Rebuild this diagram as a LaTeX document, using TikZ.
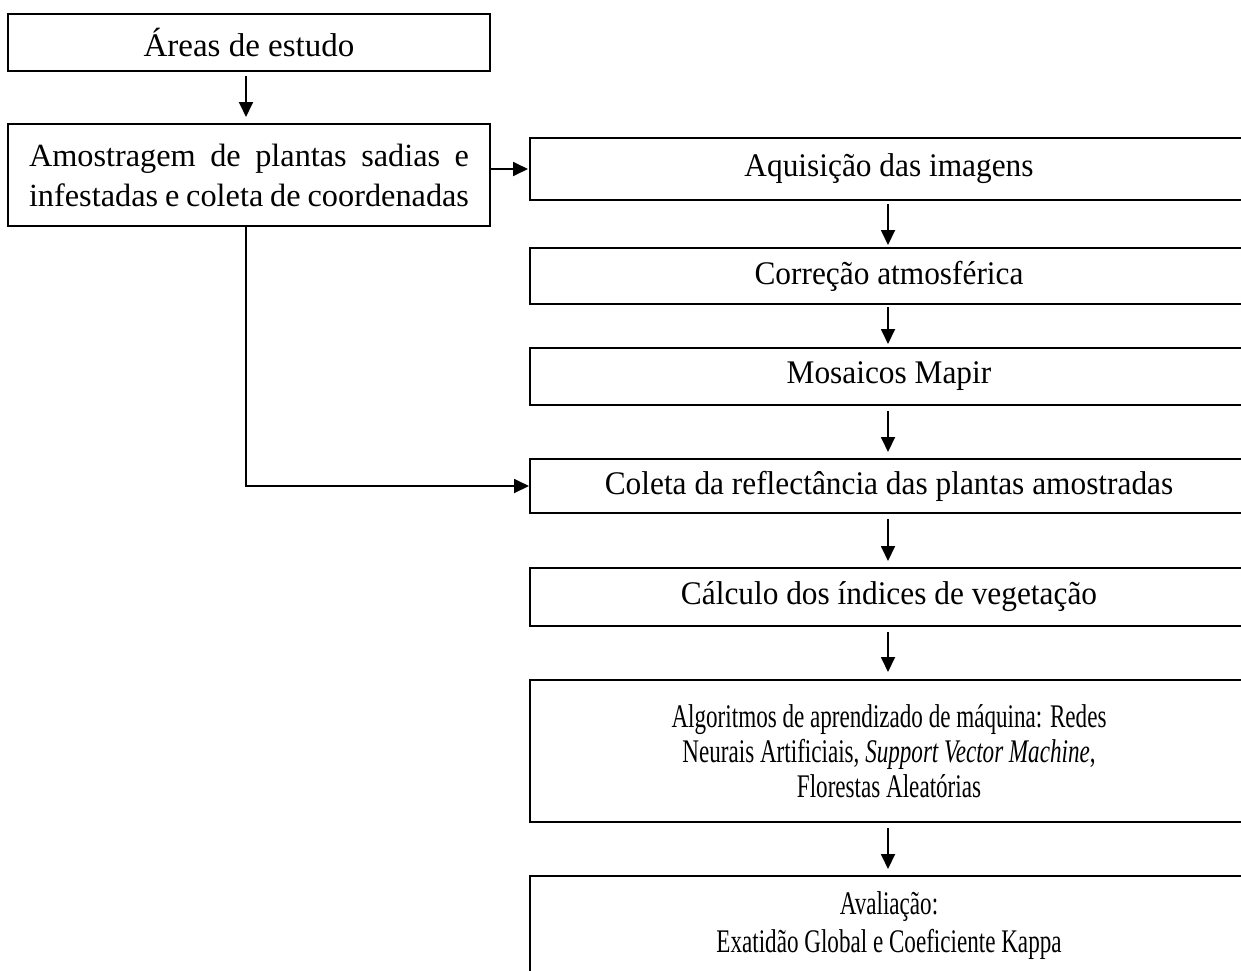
\documentclass[tikz,border=0pt]{standalone}
\usepackage{fontspec}
\setmainfont{Liberation Serif}
\newfontfamily\narrowfont{Liberation Serif}[FakeStretch=0.70]
\newfontfamily\midfont{Liberation Serif}[FakeStretch=0.95]
\usetikzlibrary{arrows.meta}
\begin{document}
\begin{tikzpicture}[x=1pt,y=-1pt,
  box/.style={draw=black, line width=1.8pt, rectangle, inner sep=0pt, outer sep=0pt, align=center, fill=white},
  leftbox/.style={box, minimum width=482pt, font=\fontsize{33}{39}\selectfont},
  rightbox/.style={box, minimum width=718pt, font=\midfont\fontsize{33}{39}\selectfont},
  arr/.style={line width=1.8pt, -{Triangle[length=15pt,width=14pt]}},
]
\useasboundingbox (0,0) rectangle (1241,970);
\clip (0,0) rectangle (1241,970);
\fill[white] (0,0) rectangle (1241,970);

\node[leftbox, minimum height=57pt] (A) at (249,42.5) {Áreas de estudo};
\node[leftbox, minimum height=102pt, font=\fontsize{32.3}{39}\selectfont] (B) at (249,175)
  {\makebox[440pt][s]{Amostragem de plantas sadias e}\\[1pt]
   \makebox[440pt][s]{infestadas e coleta de coordenadas}};

\node[rightbox, minimum height=62pt] (aq) at (889,169) {Aquisição das imagens};
\node[rightbox, minimum height=56pt] (co) at (889,276) {Correção atmosférica};
\node[rightbox, minimum height=57pt] (mo) at (889,376.5) {Mosaicos Mapir};
\node[rightbox, minimum height=54pt] (cl) at (889,486) {Coleta da reflectância das plantas amostradas};
\node[rightbox, minimum height=58pt] (ca) at (889,597) {Cálculo dos índices de vegetação};
\node[box, minimum width=718pt, minimum height=142pt, font=\narrowfont\fontsize{33}{35}\selectfont] (al) at (889,751)
  {Algoritmos de aprendizado de máquina: Redes\\
   Neurais Artificiais, \textit{Support Vector Machine},\\
   Florestas Aleatórias};
\node[box, minimum width=718pt, minimum height=100pt, font=\narrowfont\fontsize{33}{38}\selectfont] (av) at (889,926)
  {Avaliação:\\ Exatidão Global e Coeficiente Kappa};

\draw[arr, shorten <=5pt, shorten >=7pt] ([xshift=-3pt]A.south) -- ([xshift=-3pt]B.north);
\draw[arr, shorten >=2pt] (B.east |- aq.west) -- (aq.west);
\draw[arr, shorten >=1pt] ([xshift=-3pt]B.south) |- (cl.west);
\draw[arr, shorten <=4pt, shorten >=3pt] ([xshift=-1pt]aq.south) -- ([xshift=-1pt]co.north);
\draw[arr, shorten <=3pt, shorten >=4pt] ([xshift=-1pt]co.south) -- ([xshift=-1pt]mo.north);
\draw[arr, shorten <=6pt, shorten >=7pt] ([xshift=-1pt]mo.south) -- ([xshift=-1pt]cl.north);
\draw[arr, shorten <=6pt, shorten >=7pt] ([xshift=-1pt]cl.south) -- ([xshift=-1pt]ca.north);
\draw[arr, shorten <=6pt, shorten >=8pt] ([xshift=-1pt]ca.south) -- ([xshift=-1pt]al.north);
\draw[arr, shorten <=6pt, shorten >=7pt] ([xshift=-1pt]al.south) -- ([xshift=-1pt]av.north);
\end{tikzpicture}
\end{document}
